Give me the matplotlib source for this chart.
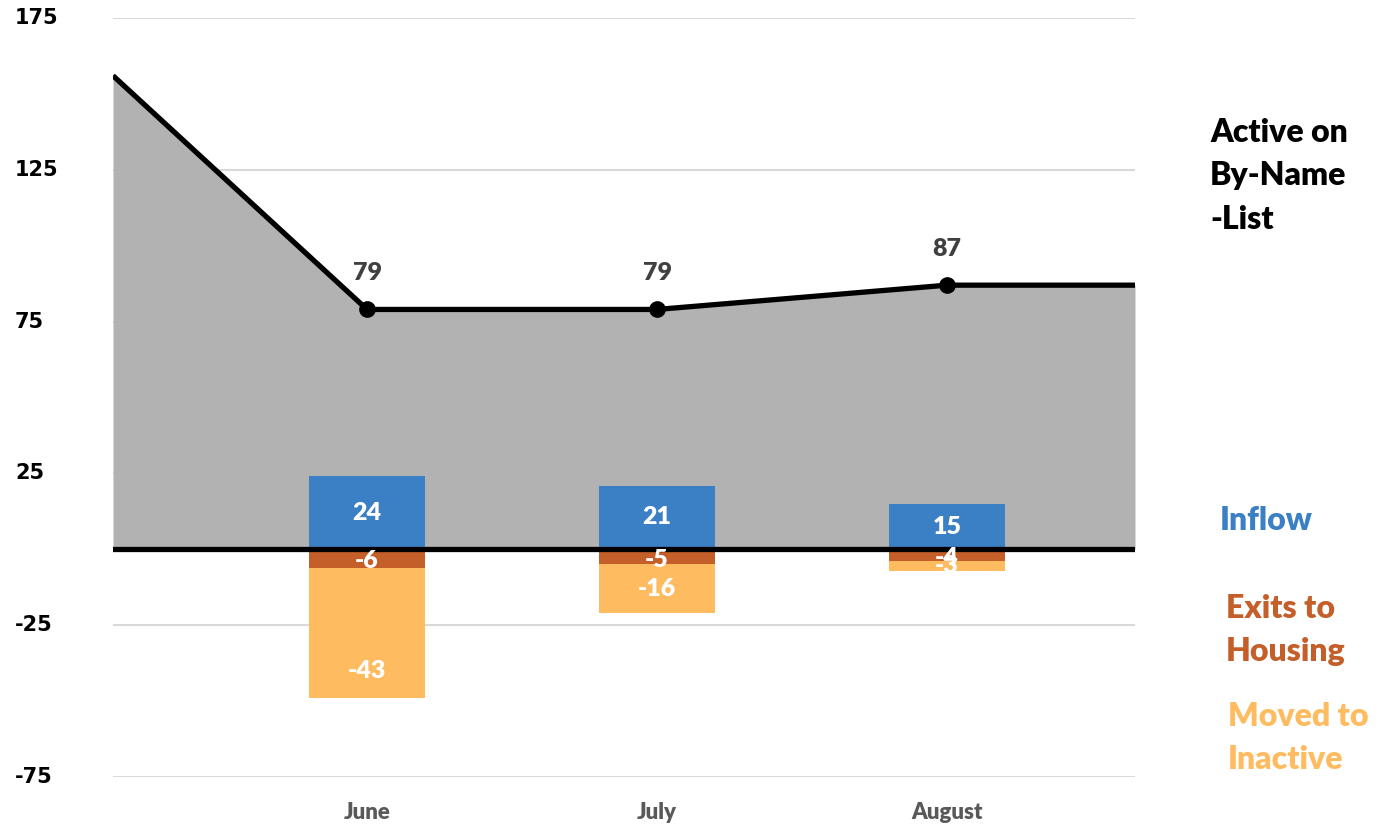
import matplotlib.pyplot as plt
import matplotlib.transforms as mtransforms
import numpy as np

# values
months = ["June", "July", "August"]
start_active = 156          # active count carried in before June
active = [79, 79, 87]
inflow = [24, 21, 15]
exits = [-6, -5, -4]
moved = [-43, -16, -3]
yticks = [175, 125, 75, 25, -25, -75]

c_blue = "#3B7FC4"
c_exit = "#C55F29"
c_moved = "#FFBB5F"
c_area = "#B2B2B2"

plt.rcParams['font.family'] = ['Lato', 'DejaVu Sans']
WT = "heavy"

fig = plt.figure(figsize=(13.86, 8.26), dpi=100)
ax = fig.add_axes([113/1386, 1-777/826, 1022/1386, 759/826])

x = np.arange(len(months))
xmin, xmax = -254/290, 2 + 188/290
ax.set_xlim(xmin, xmax)
ax.set_ylim(-75, 175)

# area + line for the active list
lx = np.concatenate([[xmin], x, [xmax]])
ly = np.concatenate([[start_active], active, [active[-1]]])
ax.fill_between(lx, 0, ly, color=c_area, lw=0, zorder=1)
for yt in yticks:
    ax.axhline(yt, color="#D9D9D9", lw=1.5, zorder=0)
ax.plot(lx, ly, color="black", lw=3.8, zorder=4, solid_capstyle="butt")
ax.plot(x, active, "o", color="black", ms=11, zorder=5)
for xi, v in zip(x, active):
    ax.annotate(str(v), (xi, v), xytext=(0, 26), textcoords="offset points",
                ha="center", va="center", fontsize=18, fontweight=WT, color="#404040")

# flow bars
w = 0.4
ax.bar(x, inflow, w, color=c_blue, zorder=2)
ax.bar(x, exits, w, color=c_exit, zorder=2)
ax.bar(x, moved, w, bottom=exits, color=c_moved, zorder=2)
ax.axhline(0, color="black", lw=3.8, zorder=3)

for xi, i, e, m in zip(x, inflow, exits, moved):
    ax.text(xi, i/2, str(i), ha="center", va="center", color="white",
            fontsize=18, fontweight=WT, zorder=6)
    ax.text(xi, min(e/2 - 1, e + 2), str(e), ha="center", va="center", color="white",
            fontsize=18, fontweight=WT, zorder=6)
    bot = e + m
    ax.text(xi, min(bot + 9, e + m/2), str(m), ha="center", va="center", color="white",
            fontsize=18, fontweight=WT, zorder=6)

ax.set_xticks(x)
ax.set_xticklabels(months, fontsize=16, fontweight=WT, color="#595959")
ax.tick_params(axis="x", length=0, pad=18)
ax.set_yticks([])
for s in ax.spines.values():
    s.set_visible(False)

# y labels pinned to the left edge of the figure
tr = mtransforms.blended_transform_factory(fig.transFigure, ax.transData)
for yt in yticks:
    ax.text(15/1386, yt, str(yt), transform=tr, ha="left", va="center",
            fontsize=15, fontweight="bold", family="DejaVu Sans", color="black")

# series names on the right
fig.text(1210/1386, 1-176/826, "Active on\nBy-Name\n-List", ha="left", va="center",
         fontsize=23, fontweight=WT, color="black", linespacing=1.6)
fig.text(1220/1386, 1-520/826, "Inflow", ha="left", va="center",
         fontsize=23, fontweight=WT, color=c_blue)
fig.text(1226/1386, 1-630/826, "Exits to\nHousing", ha="left", va="center",
         fontsize=23, fontweight=WT, color=c_exit, linespacing=1.6)
fig.text(1228/1386, 1-738/826, "Moved to\nInactive", ha="left", va="center",
         fontsize=23, fontweight=WT, color=c_moved, linespacing=1.6)

fig.savefig("out.png", dpi=100)
